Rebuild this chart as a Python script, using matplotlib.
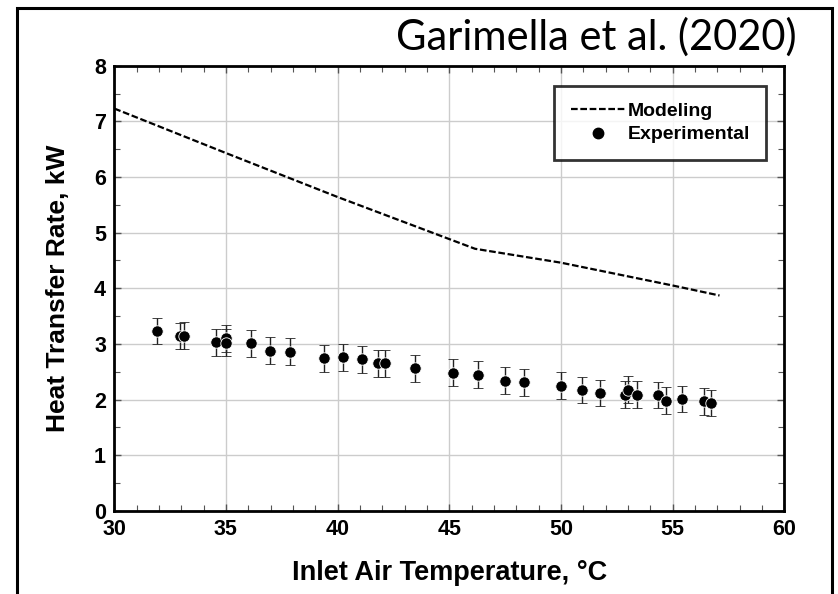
import numpy as np
import matplotlib
matplotlib.use("Agg")
import matplotlib.pyplot as plt
from matplotlib.patches import Rectangle
from matplotlib.lines import Line2D
from matplotlib.ticker import MultipleLocator

# Modeling curve (dashed)
model_temp = [30.0, 35.0, 40.0, 46.15, 50.0, 55.0, 57.1]
model_q = [7.23, 6.43, 5.64, 4.71, 4.46, 4.05, 3.87]

# Experimental points
exp_temp = [31.91, 32.94, 33.13, 34.54, 34.99, 34.99, 36.12, 36.99, 37.88,
            39.39, 40.24, 41.09, 41.82, 42.11, 43.48, 45.18, 46.30, 47.48,
            48.35, 50.00, 50.96, 51.76, 52.87, 52.99, 53.42, 54.36, 54.71,
            55.42, 56.41, 56.71]
exp_q = [3.23, 3.14, 3.15, 3.03, 3.10, 3.02, 3.01, 2.88, 2.86,
         2.74, 2.76, 2.72, 2.65, 2.65, 2.56, 2.48, 2.45, 2.34,
         2.31, 2.25, 2.17, 2.12, 2.09, 2.18, 2.09, 2.08, 1.98,
         2.01, 1.97, 1.94]
exp_err = 0.24

plt.rcParams['font.family'] = ['Liberation Sans', 'DejaVu Sans']

fig = plt.figure(figsize=(8.38, 5.94), dpi=100)
ax = fig.add_axes([0.1364, 0.140, 0.7995, 0.7494])

model_line, = ax.plot(model_temp, model_q, color='black', lw=1.6,
                      linestyle=(0, (3, 1.2)), zorder=3)
ax.errorbar(exp_temp, exp_q, yerr=exp_err, fmt='o', color='black', ms=8.2,
            mec='white', mew=0.6, ecolor='#222222', elinewidth=1.0,
            capsize=3.4, capthick=1.0, zorder=4)

ax.set_xlim(30, 60)
ax.set_ylim(0, 8)
ax.xaxis.set_major_locator(MultipleLocator(5))
ax.xaxis.set_minor_locator(MultipleLocator(1))
ax.yaxis.set_major_locator(MultipleLocator(1))
ax.yaxis.set_minor_locator(MultipleLocator(0.5))
ax.tick_params(which='both', direction='in', top=True, right=True,
               color='#555555')
ax.tick_params(which='major', length=5, width=1, labelsize=15.5, pad=6)
ax.tick_params(which='minor', length=4, width=0.8)
for lbl in ax.get_xticklabels() + ax.get_yticklabels():
    lbl.set_fontweight('bold')
ax.grid(True, which='major', color='#cccccc', lw=1.0)
for sp in ax.spines.values():
    sp.set_linewidth(2.0)
    sp.set_color('black')

ax.set_xlabel('Inlet Air Temperature, °C', fontsize=19.5, fontweight='bold',
              labelpad=14)
ax.set_ylabel('Heat Transfer Rate, kW', fontsize=19, fontweight='bold',
              labelpad=17)

exp_handle = Line2D([], [], marker='o', color='black', linestyle='none',
                    ms=7.5)
leg = ax.legend([model_line, exp_handle], ['Modeling', 'Experimental'],
                loc='upper right', bbox_to_anchor=(0.973, 0.955),
                frameon=True, fancybox=False, edgecolor='black',
                prop={'weight': 'bold', 'size': 14}, handlelength=2.8,
                handletextpad=0.1, labelspacing=0.3, borderpad=0.85,
                borderaxespad=0, numpoints=1)
leg.get_frame().set_linewidth(2.0)

fig.text(0.951, 0.937, 'Garimella et al. (2020)', ha='right', va='center',
         fontsize=30, family=['Lato', 'DejaVu Sans'])

fig.add_artist(Rectangle((17 / 838, -0.02), (832 - 17) / 838, 1.006,
                         transform=fig.transFigure, fill=False,
                         edgecolor='black', lw=2.2))

fig.savefig('out.png', dpi=100)
